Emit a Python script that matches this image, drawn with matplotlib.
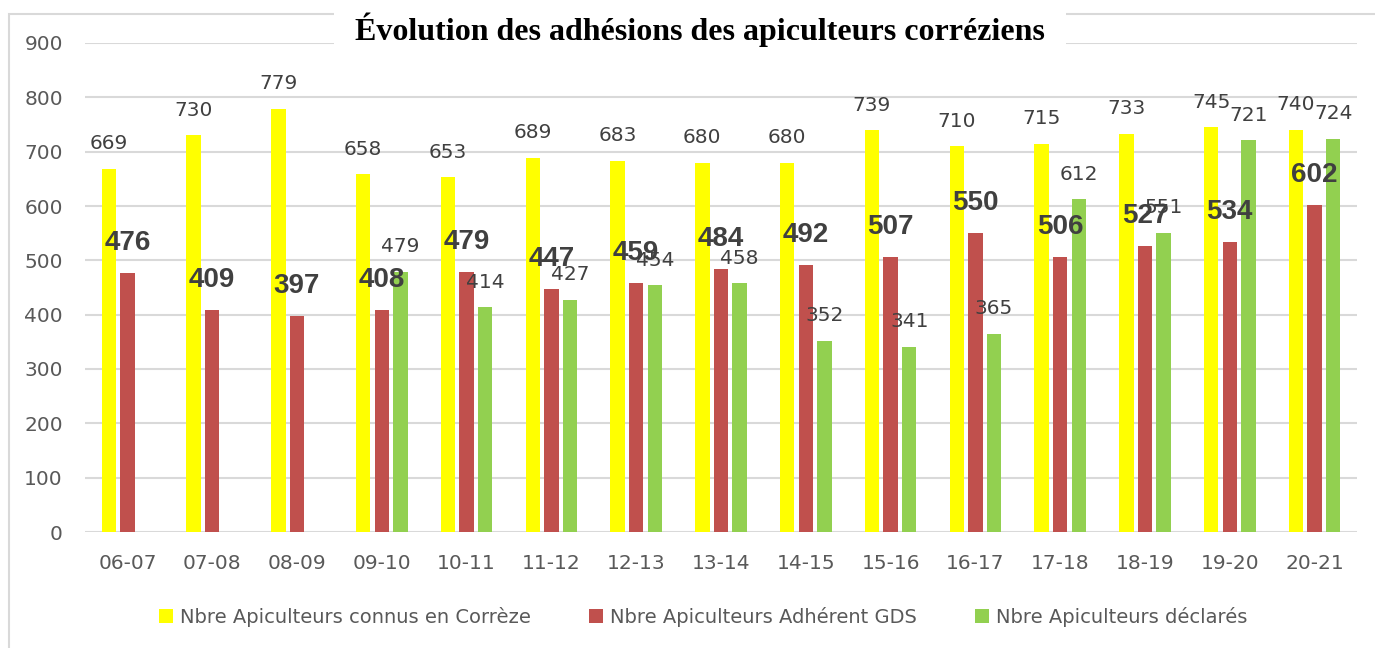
import numpy as np
from matplotlib import pyplot as plt
from matplotlib.patches import Rectangle

saisons = ['06-07', '07-08', '08-09', '09-10', '10-11', '11-12', '12-13', '13-14',
           '14-15', '15-16', '16-17', '17-18', '18-19', '19-20', '20-21']
connus = [669, 730, 779, 658, 653, 689, 683, 680, 680, 739, 710, 715, 733, 745, 740]
adherents = [476, 409, 397, 408, 479, 447, 459, 484, 492, 507, 550, 506, 527, 534, 602]
declares = [np.nan, np.nan, np.nan, 479, 414, 427, 454, 458, 352, 341, 365, 612, 551, 721, 724]

noms = ['Nbre Apiculteurs connus en Corrèze', 'Nbre Apiculteurs Adhérent GDS',
        'Nbre Apiculteurs déclarés']
couleurs = ['#FFFF00', '#C0504D', '#92D050']

W, H = 1375, 648
fig = plt.figure(figsize=(W / 100, H / 100), dpi=100)
ax = fig.add_axes([85 / W, 1 - 532 / H, (1357 - 85) / W, (532 - 43) / H])
ax.set_facecolor('none')

# cadre gris du graphique
fig.patches.append(Rectangle((9 / W, -0.1), 1.2, 1 - 14 / H + 0.1, transform=fig.transFigure,
                             fill=False, edgecolor='#d9d9d9', linewidth=1.5, zorder=-5))

x = np.arange(len(saisons))
larg = 0.17
dec = 0.22
series = [connus, adherents, declares]
for k, (vals, c, nom) in enumerate(zip(series, couleurs, noms)):
    ax.bar(x + (k - 1) * dec, vals, width=larg, color=c, label=nom, zorder=3)

gris = '#404040'
for i in range(len(saisons)):
    ax.annotate(str(connus[i]), (x[i] - dec, connus[i]), xytext=(0, 25),
                textcoords='offset pixels', ha='center', va='center',
                fontsize=14.5, color=gris, zorder=5)
    if not np.isnan(declares[i]):
        ax.annotate(str(int(declares[i])), (x[i] + dec, declares[i]), xytext=(0, 25),
                    textcoords='offset pixels', ha='center', va='center',
                    fontsize=14.5, color=gris, zorder=5)
    ax.annotate(str(adherents[i]), (x[i], adherents[i]), xytext=(0, 30),
                textcoords='offset pixels', ha='center', va='center',
                fontsize=20, fontweight='bold', family='Liberation Sans',
                color=gris, zorder=6)

ax.set_xlim(-0.5, len(saisons) - 0.5)
ax.set_ylim(0, 900)
ax.set_yticks(range(0, 901, 100))
ax.set_xticks(x)
ax.set_xticklabels(saisons)
ax.grid(axis='y', color='#d9d9d9', linewidth=1.5, zorder=0)
ax.set_axisbelow(True)
for s in ax.spines.values():
    s.set_visible(False)
ax.tick_params(axis='both', length=0, labelsize=14.5, labelcolor='#595959')
ax.tick_params(axis='x', pad=16)
ax.tick_params(axis='y', pad=16)

fig.text(700 / W, 1 - 30 / H, 'Évolution des adhésions des apiculteurs corréziens',
         ha='center', va='center', fontsize=23, fontweight='bold',
         family='Liberation Serif', color='black', zorder=10,
         bbox=dict(facecolor='white', edgecolor='none', pad=15))

fig.legend(loc='center', bbox_to_anchor=(703 / W, 1 - 617 / H), ncol=3, frameon=False,
           fontsize=14, labelcolor='#595959', handlelength=0.72, handleheight=0.72,
           handletextpad=0.35, columnspacing=3.0)

fig.savefig('out.png', dpi=100)
